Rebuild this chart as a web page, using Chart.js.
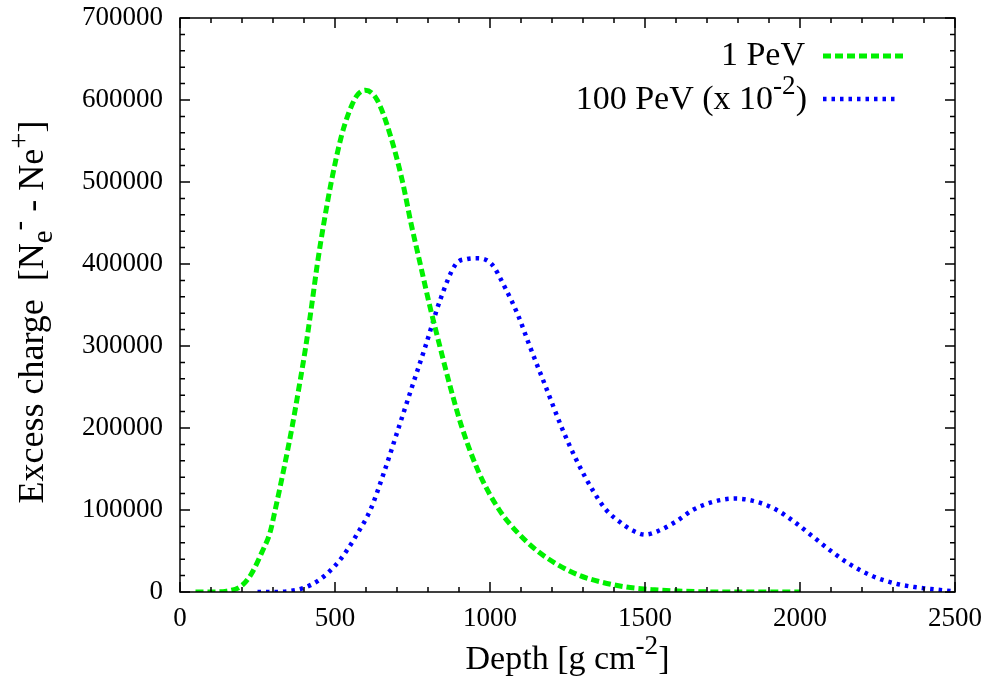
<!DOCTYPE html>
<html>
<head>
<meta charset="utf-8">
<script src="https://cdn.jsdelivr.net/npm/chart.js@4.4.1/dist/chart.umd.min.js"></script>
<style>
  html, body { margin: 0; padding: 0; background: #fff; }
</style>
</head>
<body>
<canvas id="chart" width="995" height="691"></canvas>
<script>
// ---------------- DATA ----------------
const depth1PeV = [50, 100, 150, 200, 230, 266, 290, 307, 335, 361, 385, 406, 425, 443, 465, 488, 520, 545, 570, 598, 636, 680, 718, 745, 775, 805, 838, 872, 910, 965, 1030, 1090, 1153, 1220, 1290, 1360, 1440, 1520, 1620, 1750, 1850, 2000];
const charge1PeV = [0, 0, 1000, 8000, 22000, 50000, 72000, 100000, 150000, 200000, 252000, 300000, 350000, 400000, 452000, 500000, 555000, 585000, 605000, 612000, 600000, 555000, 500000, 450000, 400000, 350000, 300000, 250000, 200000, 145000, 100000, 72000, 50000, 33000, 20000, 12000, 6000, 3000, 1000, 0, 0, 0];

const depth100PeV = [250, 300, 350, 400, 450, 500, 537, 575, 614, 660, 705, 750, 792, 840, 890, 925, 960, 1005, 1050, 1090, 1128, 1180, 1232, 1280, 1330, 1375, 1420, 1460, 1500, 1540, 1600, 1654, 1720, 1790, 1860, 1925, 1980, 2040, 2100, 2160, 2230, 2300, 2370, 2440, 2490];
const charge100PeV = [0, 0, 1000, 5000, 15000, 32000, 50000, 73000, 100000, 148000, 200000, 252000, 300000, 357000, 400000, 406000, 407000, 400000, 370000, 338000, 300000, 250000, 200000, 160000, 125000, 100000, 85000, 75000, 70000, 74000, 86000, 100000, 110000, 114000, 110000, 100000, 86000, 68000, 50000, 34000, 20000, 11000, 6000, 3000, 1000];

const xTicks = [0, 500, 1000, 1500, 2000, 2500];
const yTicks = [0, 100000, 200000, 300000, 400000, 500000, 600000, 700000];

const FONT = "'Liberation Serif', 'DejaVu Serif', serif";
const GREEN = "#00f000";
const BLUE = "#0000ff";

// draw text with sub/superscript pieces around (x, y)
function drawRich(ctx, parts, x, y, size, angle, align) {
  ctx.save();
  ctx.translate(x, y);
  ctx.rotate(angle || 0);
  ctx.textBaseline = "middle";
  ctx.fillStyle = "#000";
  let total = 0;
  parts.forEach(p => {
    const s = p.sub || p.sup ? size * 0.8 : size;
    ctx.font = s + "px " + FONT;
    p.w = ctx.measureText(p.t).width;
    total += p.w;
  });
  let cx = align === "right" ? -total : -total / 2;
  parts.forEach(p => {
    const s = p.sub || p.sup ? size * 0.8 : size;
    ctx.font = s + "px " + FONT;
    let dy = 0;
    if (p.sub) dy = size * 0.3;
    if (p.sup) dy = -size * 0.38;
    ctx.textAlign = "left";
    ctx.fillText(p.t, cx, dy);
    cx += p.w;
  });
  ctx.restore();
}

// frame, inward ticks, titles and legend
const framePlugin = {
  id: "frame",
  afterDraw(chart) {
    const ctx = chart.ctx;
    const a = chart.chartArea;
    const xs = chart.scales.x;
    const ys = chart.scales.y;
    ctx.save();
    ctx.strokeStyle = "#000";
    ctx.lineWidth = 1.5;
    ctx.setLineDash([]);
    ctx.strokeRect(a.left, a.top, a.right - a.left, a.bottom - a.top);

    ctx.beginPath();
    for (let v = 0; v <= 2500; v += 100) {
      const px = xs.getPixelForValue(v);
      const len = v % 500 === 0 ? 10 : 5;
      ctx.moveTo(px, a.bottom); ctx.lineTo(px, a.bottom - len);
      ctx.moveTo(px, a.top); ctx.lineTo(px, a.top + len);
    }
    for (let v = 0; v <= 700000; v += 20000) {
      const py = ys.getPixelForValue(v);
      const len = v % 100000 === 0 ? 10 : 5;
      ctx.moveTo(a.left, py); ctx.lineTo(a.left + len, py);
      ctx.moveTo(a.right, py); ctx.lineTo(a.right - len, py);
    }
    ctx.stroke();

    // axis titles
    drawRich(ctx, [{ t: "Depth [g cm" }, { t: "-2", sup: true }, { t: "]" }],
      (a.left + a.right) / 2, 660, 34, 0);
    drawRich(ctx, [
      { t: "Excess charge  [N" }, { t: "e", sub: true }, { t: "-", sup: true },
      { t: " - Ne" }, { t: "+", sup: true }, { t: "]" }
    ], 34, 312, 36, -Math.PI / 2);

    // legend
    drawRich(ctx, [{ t: "1 PeV" }], 805, 56, 34, 0, "right");
    drawRich(ctx, [{ t: "100 PeV (x 10" }, { t: "-2", sup: true }, { t: ")" }], 807, 100, 34, 0, "right");
    ctx.lineCap = "butt";
    ctx.strokeStyle = GREEN;
    ctx.lineWidth = 5;
    ctx.setLineDash([8, 4]);
    ctx.beginPath(); ctx.moveTo(823, 56); ctx.lineTo(903, 56); ctx.stroke();
    ctx.strokeStyle = BLUE;
    ctx.lineWidth = 4.5;
    ctx.setLineDash([3.5, 5]);
    ctx.beginPath(); ctx.moveTo(823, 99); ctx.lineTo(898, 99); ctx.stroke();
    ctx.restore();
  }
};

const ctx = document.getElementById("chart").getContext("2d");
const myChart = new Chart(ctx, {
  type: "line",
  data: {
    datasets: [
      {
        label: "1 PeV",
        data: depth1PeV.map((d, i) => ({ x: d, y: charge1PeV[i] })),
        borderColor: GREEN,
        borderWidth: 5,
        borderDash: [8, 4],
        pointRadius: 0,
        cubicInterpolationMode: "monotone",
        fill: false,
      },
      {
        label: "100 PeV (x 10-2)",
        data: depth100PeV.map((d, i) => ({ x: d, y: charge100PeV[i] })),
        borderColor: BLUE,
        borderWidth: 4.5,
        borderDash: [3.5, 5],
        pointRadius: 0,
        cubicInterpolationMode: "monotone",
        fill: false,
      },
    ],
  },
  options: {
    responsive: false,
    animation: false,
    layout: { padding: { top: 18, right: 40, left: 0, bottom: 0 } },
    plugins: {
      legend: { display: false },
      tooltip: { enabled: false },
    },
    scales: {
      x: {
        type: "linear",
        min: 0,
        max: 2500,
        afterBuildTicks(s) { s.ticks = xTicks.map(v => ({ value: v })); },
        afterFit(s) { s.height = 99; s.paddingLeft = 0; s.paddingRight = 0; },
        ticks: { padding: 11, color: "#000", maxRotation: 0, font: { family: FONT, size: 27 }, callback: v => String(v) },
        grid: { display: false, drawTicks: false },
        border: { display: false },
      },
      y: {
        min: 0,
        max: 700000,
        afterBuildTicks(s) { s.ticks = yTicks.map(v => ({ value: v })); },
        afterFit(s) { s.width = 180; s.paddingTop = 0; s.paddingBottom = 0; },
        ticks: { padding: 17, color: "#000", font: { family: FONT, size: 27 }, callback: v => String(v) },
        grid: { display: false, drawTicks: false },
        border: { display: false },
      },
    },
  },
  plugins: [framePlugin],
});
</script>
</body>
</html>
